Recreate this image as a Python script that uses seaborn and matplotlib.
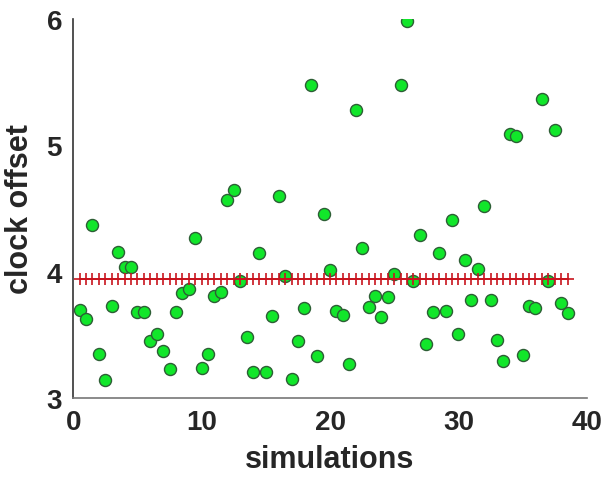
import numpy as np
import pandas as pd
import matplotlib
matplotlib.use("Agg")
import matplotlib.pyplot as plt
import seaborn as sns

simulations = np.arange(0.5, 38.75, 0.5)
clock_offset = [
    3.70, 3.63, 4.37, 3.35, 3.14, 3.73, 4.16, 4.04, 4.04, 3.68,
    3.68, 3.45, 3.51, 3.37, 3.23, 3.68, 3.83, 3.86, 4.27, 3.24,
    3.35, 3.81, 3.84, 4.57, 4.65, 3.93, 3.48, 3.21, 4.15, 3.21,
    3.65, 4.60, 3.97, 3.15, 3.45, 3.71, 5.48, 3.33, 4.46, 4.01,
    3.69, 3.66, 3.27, 5.28, 4.19, 3.72, 3.81, 3.64, 3.80, 3.98,
    5.48, 5.98, 3.93, 4.29, 3.43, 3.68, 4.15, 3.69, 4.41, 3.51,
    4.09, 3.78, 4.02, 4.52, 3.78, 3.46, 3.29, 5.09, 5.07, 3.34,
    3.73, 3.71, 5.37, 3.93, 5.12, 3.75, 3.67,
]
mean_offset = 3.94
x_ticks = [0, 10, 20, 30, 40]
y_ticks = [3, 4, 5, 6]

df = pd.DataFrame({"simulations": simulations, "clock offset": clock_offset})
df_mean = pd.DataFrame({"simulations": simulations,
                        "mean": [mean_offset] * len(simulations)})

sns.set_style("white")
plt.rcParams["font.family"] = ["Liberation Sans", "DejaVu Sans"]

fig = plt.figure(figsize=(6.05, 4.85), dpi=100)
ax = fig.add_axes([0.121, 0.177, 0.849, 0.782])

sns.scatterplot(data=df, x="simulations", y="clock offset", ax=ax,
                color="#11e62a", edgecolor="#2d5e35", linewidth=1.0,
                s=75, zorder=2)
red = "#c8141e"
sns.lineplot(data=df_mean, x="simulations", y="mean", ax=ax,
             color=red, marker="+", markersize=9, markeredgewidth=1.2,
             markeredgecolor=red, markerfacecolor=red,
             linewidth=1.2, zorder=3, errorbar=None)

ax.set_xlim(0, 40)
ax.set_ylim(3, 6)
ax.set_xticks(x_ticks)
ax.set_yticks(y_ticks)
ax.set_xticklabels([str(t) for t in x_ticks])
ax.set_yticklabels([str(t) for t in y_ticks])

txt = "#262626"
ax.tick_params(axis="both", direction="in", length=5, width=1,
               labelsize=20, colors="#555555", labelcolor=txt, pad=8)
for lab in ax.get_xticklabels() + ax.get_yticklabels():
    lab.set_fontweight("bold")

ax.set_xlabel("simulations", fontsize=22, fontweight="bold", color=txt, labelpad=6)
ax.set_ylabel("clock offset", fontsize=22, fontweight="bold", color=txt, labelpad=8)

for s in ["top", "right"]:
    ax.spines[s].set_visible(False)
ax.spines["left"].set_color("#333333")
ax.spines["bottom"].set_color("#777777")
ax.spines["left"].set_linewidth(1.2)
ax.spines["bottom"].set_linewidth(1.2)

if ax.get_legend() is not None:
    ax.get_legend().remove()

fig.savefig("out.png", dpi=100)
